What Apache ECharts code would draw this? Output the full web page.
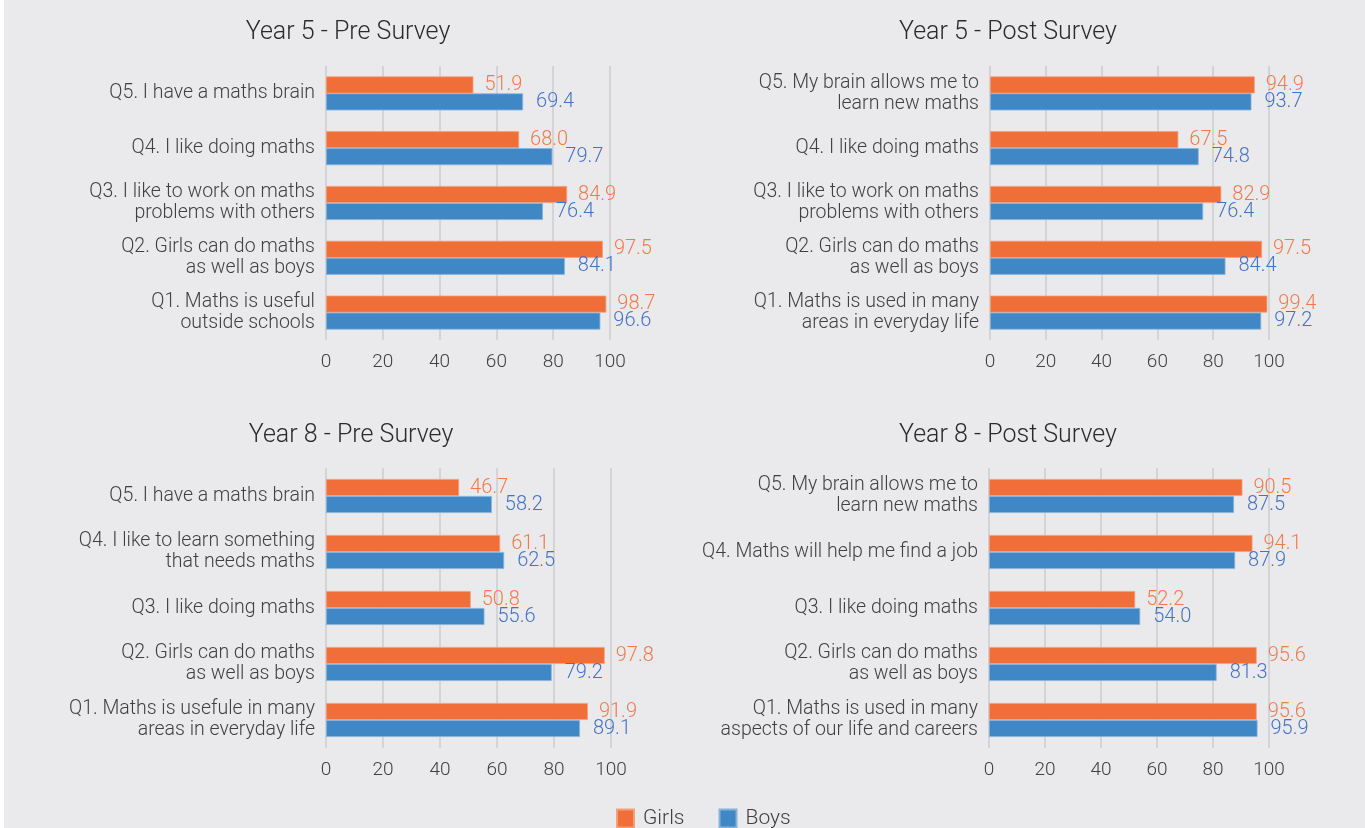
<!DOCTYPE html>
<html>
<head>
<meta charset="utf-8">
<script src="https://cdn.jsdelivr.net/npm/echarts@6/dist/echarts.min.js"></script>
<style>
  html, body { margin: 0; padding: 0; background: #eaeaec; }
  #main { width: 1365px; height: 828px; }
</style>
</head>
<body>
<div id="main"></div>
<script>
// 图表标题
var titles = ['Year 5 - Pre Survey', 'Year 5 - Post Survey', 'Year 8 - Pre Survey', 'Year 8 - Post Survey'];

// 各图的题目（从下往上 Q1..Q5）
var y5PreCats = ['Q1. Maths is useful\noutside schools', 'Q2. Girls can do maths\nas well as boys', 'Q3. I like to work on maths\nproblems with others', 'Q4. I like doing maths', 'Q5. I have a maths brain'];
var y5PostCats = ['Q1. Maths is used in many\nareas in everyday life', 'Q2. Girls can do maths\nas well as boys', 'Q3. I like to work on maths\nproblems with others', 'Q4. I like doing maths', 'Q5. My brain allows me to\nlearn new maths'];
var y8PreCats = ['Q1. Maths is usefule in many\nareas in everyday life', 'Q2. Girls can do maths\nas well as boys', 'Q3. I like doing maths', 'Q4. I like to learn something\nthat needs maths', 'Q5. I have a maths brain'];
var y8PostCats = ['Q1. Maths is used in many\naspects of our life and careers', 'Q2. Girls can do maths\nas well as boys', 'Q3. I like doing maths', 'Q4. Maths will help me find a job', 'Q5. My brain allows me to\nlearn new maths'];

// 数据
var y5PreGirls = [98.7, 97.5, 84.9, 68.0, 51.9];
var y5PreBoys = [96.6, 84.1, 76.4, 79.7, 69.4];
var y5PostGirls = [99.4, 97.5, 82.9, 67.5, 94.9];
var y5PostBoys = [97.2, 84.4, 76.4, 74.8, 93.7];
var y8PreGirls = [91.9, 97.8, 50.8, 61.1, 46.7];
var y8PreBoys = [89.1, 79.2, 55.6, 62.5, 58.2];
var y8PostGirls = [95.6, 95.6, 52.2, 94.1, 90.5];
var y8PostBoys = [95.9, 81.3, 54.0, 87.9, 87.5];

var xTicks = [0, 20, 40, 60, 80, 100];

var cats = [y5PreCats, y5PostCats, y8PreCats, y8PostCats];
var girls = [y5PreGirls, y5PostGirls, y8PreGirls, y8PostGirls];
var boys = [y5PreBoys, y5PostBoys, y8PreBoys, y8PostBoys];

var FONT = 'Roboto';
var ORANGE = '#f06e37';
var BLUE = '#3f87c5';

var grids = [
    { left: 326, top: 66, width: 284, height: 274 },
    { left: 990, top: 66, width: 279, height: 274 },
    { left: 326, top: 468, width: 285, height: 280 },
    { left: 989, top: 468, width: 280, height: 280 }
];
var titlePos = [[343, 15], [1003, 15], [346, 418], [1003, 418]];

var myChart = echarts.init(document.getElementById('main'));

var xAxes = [], yAxes = [], series = [], titleOpts = [];
for (var i = 0; i < 4; i++) {
    titleOpts.push({
        text: titles[i],
        left: titlePos[i][0],
        top: titlePos[i][1],
        textAlign: 'center',
        textStyle: { fontFamily: FONT, fontSize: 25, fontWeight: 300, color: '#2a2a2a' }
    });
    xAxes.push({
        type: 'value',
        gridIndex: i,
        min: 0,
        max: 100,
        interval: 20,
        axisLine: { show: false },
        axisTick: { show: false },
        splitLine: { lineStyle: { color: '#d4d4d7', width: 2 } },
        axisLabel: {
            margin: 13,
            fontFamily: FONT,
            fontWeight: 300,
            fontSize: 19,
            color: '#404040',
            formatter: function (v) { return xTicks.indexOf(v) >= 0 ? String(v) : ''; }
        }
    });
    yAxes.push({
        type: 'category',
        gridIndex: i,
        data: cats[i],
        axisLine: { show: false },
        axisTick: { show: false },
        axisLabel: {
            margin: 11,
            fontFamily: FONT,
            fontWeight: 300,
            fontSize: 19.5,
            lineHeight: 21,
            color: '#404040',
            align: 'right'
        }
    });
    series.push({
        name: 'Girls',
        type: 'bar',
        xAxisIndex: i,
        yAxisIndex: i,
        data: girls[i],
        barWidth: 17,
        barGap: '0%',
        itemStyle: { color: ORANGE, borderColor: '#f3a07a', borderWidth: 0.8 },
        label: {
            show: true,
            position: 'right',
            distance: 11,
            fontFamily: FONT,
            fontWeight: 300,
            fontSize: 20,
            color: '#f07a4a',
            formatter: function (p) { return p.value.toFixed(1); }
        }
    });
    series.push({
        name: 'Boys',
        type: 'bar',
        xAxisIndex: i,
        yAxisIndex: i,
        data: boys[i],
        barWidth: 17,
        barGap: '0%',
        itemStyle: { color: BLUE, borderColor: '#86b3da', borderWidth: 0.8 },
        label: {
            show: true,
            position: 'right',
            distance: 13,
            fontFamily: FONT,
            fontWeight: 300,
            fontSize: 20,
            color: '#4472c4',
            formatter: function (p) { return p.value.toFixed(1); }
        }
    });
}

var option = {
    backgroundColor: '#eaeaec',
    animation: false,
    title: titleOpts,
    grid: grids,
    xAxis: xAxes,
    yAxis: yAxes,
    series: series,
    legend: {
        data: ['Girls', 'Boys'],
        left: 616,
        top: 808,
        padding: 0,
        itemWidth: 17,
        itemHeight: 18,
        itemGap: 34,
        icon: 'rect',
        textStyle: { fontFamily: FONT, fontWeight: 300, fontSize: 21, color: '#404040', padding: [0, 0, 0, 4] }
    },
    graphic: [{
        type: 'rect',
        left: 0,
        top: 0,
        shape: { width: 4, height: 828 },
        style: { fill: '#ffffff' },
        silent: true
    }]
};

myChart.setOption(option);
</script>
</body>
</html>
